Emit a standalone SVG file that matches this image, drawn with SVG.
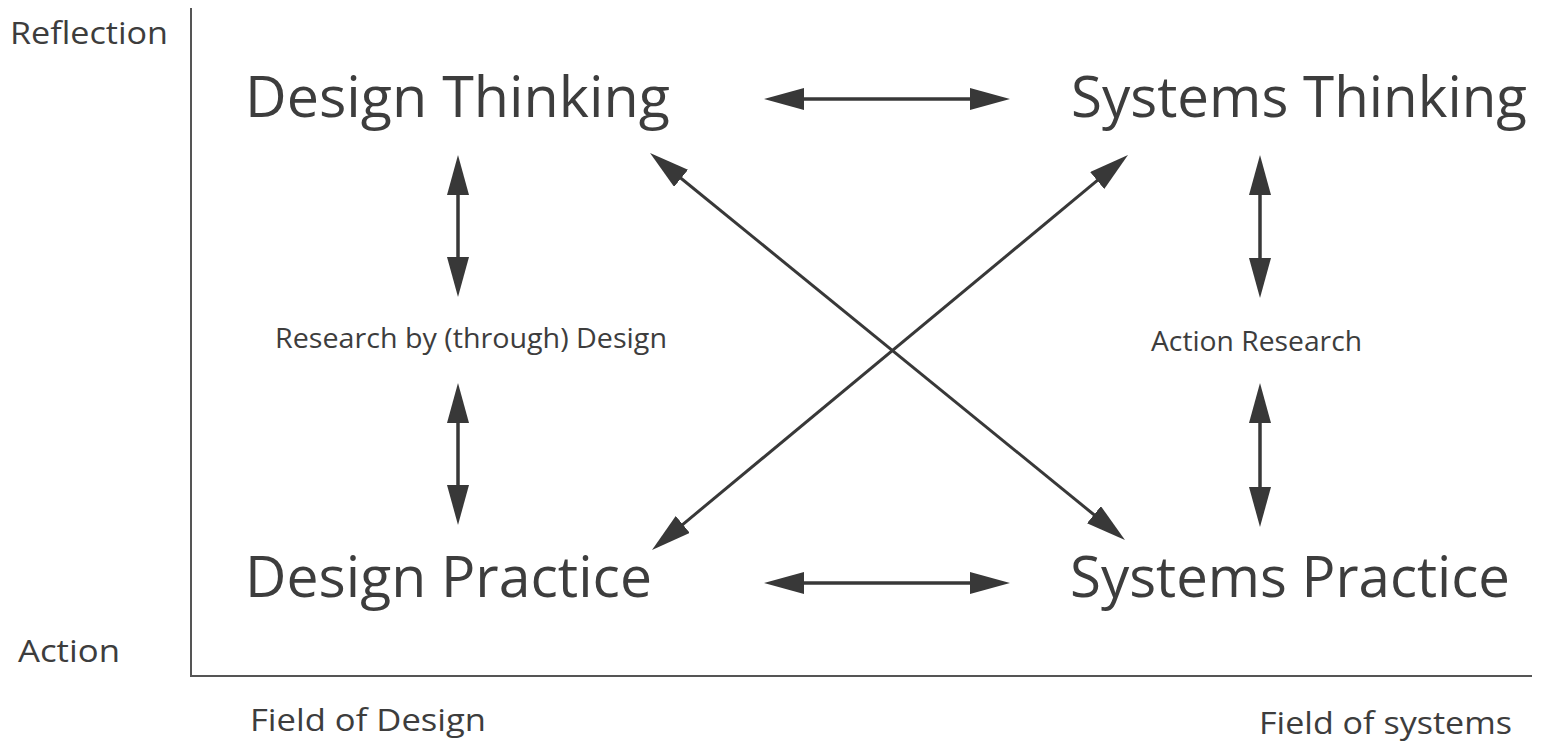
<svg xmlns="http://www.w3.org/2000/svg" width="1541" height="746" viewBox="0 0 1541 746">
<style>
text{font-family:"Open Sans","Noto Sans","Liberation Sans",sans-serif;fill:#3d3d3d}
.big{font-size:57px}
.mid{font-size:28px}
.lab{font-size:31px}
.axis{stroke:#555;stroke-width:2;fill:none}
.arr{stroke:#383838;stroke-width:3.5;fill:none;marker-start:url(#ah);marker-end:url(#ah)}
.diag{stroke-width:3}
</style>
<defs>
<marker id="ah" markerUnits="userSpaceOnUse" markerWidth="40" markerHeight="22" viewBox="0 0 40 22" refX="10" refY="11" orient="auto-start-reverse">
<path d="M0,0 L40,11 L0,22 z" fill="#383838"/>
</marker>
</defs>
<rect width="1541" height="746" fill="#fff"/>
<g id="axes">
<path class="axis" d="M191,8 V676 H1532"/>
<text class="lab" x="10" y="44" textLength="158" lengthAdjust="spacingAndGlyphs">Reflection</text>
<text class="lab" x="18" y="662" textLength="102" lengthAdjust="spacingAndGlyphs">Action</text>
<text class="lab" x="250" y="731" textLength="236" lengthAdjust="spacingAndGlyphs">Field of Design</text>
<text class="lab" x="1259" y="734" textLength="253" lengthAdjust="spacingAndGlyphs">Field of systems</text>
</g>
<g id="design-thinking"><text class="big" x="245" y="117" textLength="425" lengthAdjust="spacingAndGlyphs">Design Thinking</text></g>
<g id="systems-thinking"><text class="big" x="1071" y="117" textLength="456" lengthAdjust="spacingAndGlyphs">Systems Thinking</text></g>
<g id="design-practice"><text class="big" x="245" y="597" textLength="407" lengthAdjust="spacingAndGlyphs">Design Practice</text></g>
<g id="systems-practice"><text class="big" x="1070" y="597" textLength="440" lengthAdjust="spacingAndGlyphs">Systems Practice</text></g>
<g id="research-by-design"><text class="mid" x="275" y="348" textLength="392" lengthAdjust="spacingAndGlyphs">Research by (through) Design</text></g>
<g id="action-research"><text class="mid" x="1151" y="351" textLength="211" lengthAdjust="spacingAndGlyphs">Action Research</text></g>
<g id="connectors">
<line class="arr" x1="794" y1="99" x2="980" y2="99"/>
<line class="arr" x1="794" y1="583" x2="980" y2="583"/>
<line class="arr" x1="458" y1="185" x2="458" y2="267"/>
<line class="arr" x1="458" y1="413" x2="458" y2="495"/>
<line class="arr" x1="1260" y1="185" x2="1260" y2="268"/>
<line class="arr" x1="1260" y1="413" x2="1260" y2="497"/>
<line class="arr diag" x1="673.3" y1="172" x2="1101.7" y2="521"/>
<line class="arr diag" x1="1104.9" y1="174.2" x2="675.1" y2="530.8"/>
</g>
</svg>
